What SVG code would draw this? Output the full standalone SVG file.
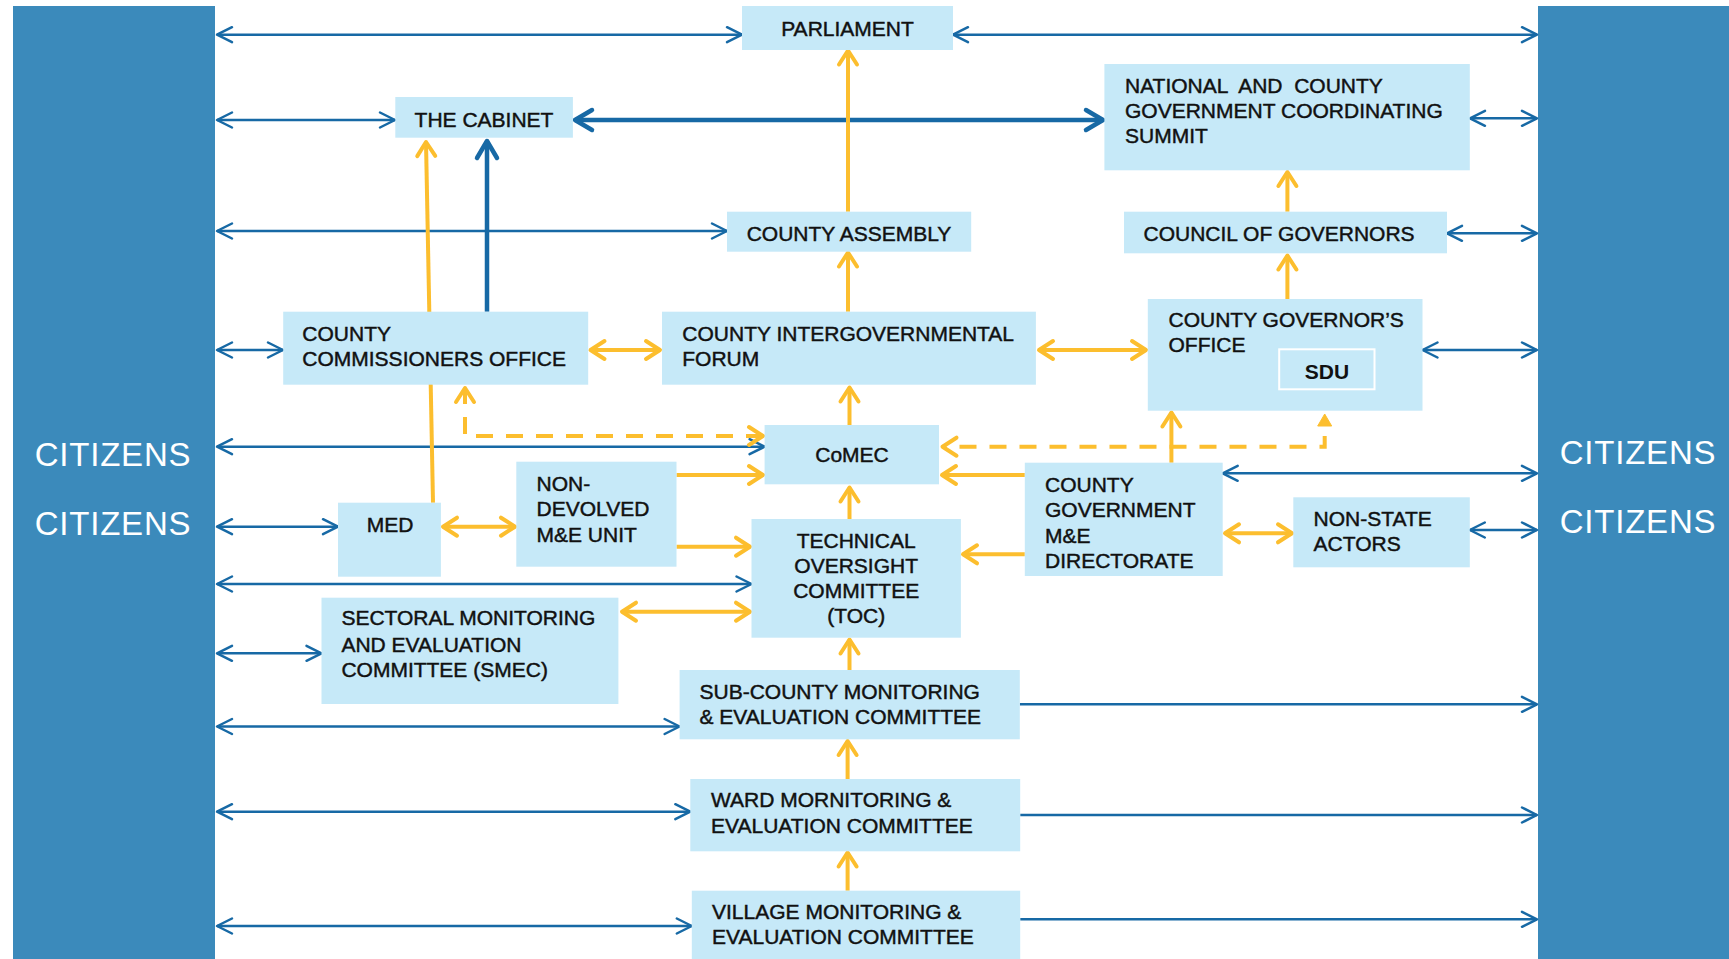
<svg xmlns="http://www.w3.org/2000/svg" width="1729" height="959" viewBox="0 0 1729 959">
<defs>
<style>
.bar{fill:#3B8ABB}
.box{fill:#C6E9F8}
.t{font-family:"Liberation Sans",Arial,sans-serif;font-size:21px;fill:#111;stroke:#111;stroke-width:0.45px}
.c{text-anchor:middle}
.cit{font-family:"Liberation Sans",Arial,sans-serif;font-size:33px;letter-spacing:0.8px;fill:#fff;text-anchor:middle}
.b{stroke:#1769A5;stroke-width:2.5;fill:none}
.bt{stroke:#1769A5;stroke-width:4.5;fill:none}
.y{stroke:#FCBE2E;stroke-width:4;fill:none}
.d{stroke-dasharray:17 13}
.bb{marker-start:url(#bh);marker-end:url(#bh)}
.be{marker-end:url(#bh)}
.tb{marker-start:url(#th);marker-end:url(#th)}
.te{marker-end:url(#th)}
.yb{marker-start:url(#yh);marker-end:url(#yh)}
.ye{marker-end:url(#yh)}
</style>
<marker id="bh" markerUnits="userSpaceOnUse" viewBox="-20 -12 24 24" refX="0" refY="0" markerWidth="24" markerHeight="24" orient="auto-start-reverse">
<path d="M-15,-7.5 L0,0 L-15,7.5" fill="none" stroke="#1769A5" stroke-width="2.5" stroke-linecap="round" stroke-linejoin="round"/>
</marker>
<marker id="th" markerUnits="userSpaceOnUse" viewBox="-24 -14 28 28" refX="0" refY="0" markerWidth="28" markerHeight="28" orient="auto-start-reverse">
<path d="M-17,-10 L0,0 L-17,10" fill="none" stroke="#1769A5" stroke-width="4.5" stroke-linecap="round" stroke-linejoin="round"/>
</marker>
<marker id="yh" markerUnits="userSpaceOnUse" viewBox="-22 -14 26 28" refX="0" refY="0" markerWidth="26" markerHeight="28" orient="auto-start-reverse">
<path d="M-14,-9 L0,0 L-14,9" fill="none" stroke="#FCBE2E" stroke-width="4" stroke-linecap="round" stroke-linejoin="round" stroke-dasharray="none"/>
</marker>
<marker id="yt" markerUnits="userSpaceOnUse" viewBox="-2 -10 28 20" refX="-10" refY="0" markerWidth="28" markerHeight="20" orient="auto">
<path d="M0,-7 L12,0 L0,7 Z" fill="#FCBE2E" stroke="#FCBE2E" stroke-width="1" stroke-linejoin="round" stroke-dasharray="none"/>
</marker>
</defs>
<rect x="0" y="0" width="1729" height="959" fill="#fff"/>

<g id="citizens-left">
<rect class="bar" x="13" y="6" width="202" height="953"/>
<text class="cit" x="113" y="466">CITIZENS</text>
<text class="cit" x="113" y="535">CITIZENS</text>
</g>
<g id="citizens-right">
<rect class="bar" x="1538" y="6" width="191" height="953"/>
<text class="cit" x="1638" y="463.5">CITIZENS</text>
<text class="cit" x="1638" y="532.5">CITIZENS</text>
</g>

<g id="connectors">
<line class="b bb" x1="217" y1="34.7" x2="742" y2="34.7"/>
<line class="b bb" x1="217" y1="120" x2="395" y2="120"/>
<line class="b bb" x1="217" y1="231" x2="727" y2="231"/>
<line class="b bb" x1="217" y1="350" x2="283" y2="350"/>
<line class="b bb" x1="217" y1="446.7" x2="764.6" y2="446.7"/>
<line class="b bb" x1="217" y1="526.7" x2="338" y2="526.7"/>
<line class="b bb" x1="217" y1="584" x2="751.5" y2="584"/>
<line class="b bb" x1="217" y1="653.3" x2="321.5" y2="653.3"/>
<line class="b bb" x1="217" y1="726.5" x2="679.6" y2="726.5"/>
<line class="b bb" x1="217" y1="811.7" x2="690.3" y2="811.7"/>
<line class="b bb" x1="217" y1="926" x2="691.8" y2="926"/>
<line class="b bb" x1="953" y1="34.7" x2="1537" y2="34.7"/>
<line class="b bb" x1="1470" y1="118.3" x2="1537" y2="118.3"/>
<line class="b bb" x1="1447" y1="233.3" x2="1537" y2="233.3"/>
<line class="b bb" x1="1422.5" y1="350" x2="1537" y2="350"/>
<line class="b bb" x1="1222.7" y1="473.3" x2="1537" y2="473.3"/>
<line class="b bb" x1="1469.8" y1="530" x2="1537" y2="530"/>
<line class="b be" x1="1019.8" y1="704.3" x2="1537" y2="704.3"/>
<line class="b be" x1="1020.2" y1="815" x2="1537" y2="815"/>
<line class="b be" x1="1020.2" y1="919.3" x2="1537" y2="919.3"/>
<line class="bt tb" x1="575" y1="120" x2="1103" y2="120"/>
<line class="bt te" x1="487" y1="311.7" x2="487" y2="141"/>
<line class="y ye" x1="848" y1="211.7" x2="848" y2="50.5"/>
<line class="y ye" x1="848" y1="311.7" x2="848" y2="252.5"/>
<line class="y ye" x1="849.5" y1="425" x2="849.5" y2="387.5"/>
<line class="y ye" x1="849.5" y1="519" x2="849.5" y2="487.5"/>
<line class="y ye" x1="849.5" y1="670" x2="849.5" y2="639.5"/>
<line class="y ye" x1="847.6" y1="779" x2="847.6" y2="741"/>
<line class="y ye" x1="847.6" y1="890.7" x2="847.6" y2="852.5"/>
<line class="y ye" x1="1287.4" y1="211.7" x2="1287.4" y2="172"/>
<line class="y ye" x1="1287.4" y1="299" x2="1287.4" y2="255.5"/>
<line class="y ye" x1="433" y1="502.7" x2="426" y2="142"/>
<line class="y ye" x1="1171.4" y1="462.7" x2="1171.4" y2="412.5"/>
<line class="y yb" x1="590.5" y1="350" x2="660" y2="350"/>
<line class="y yb" x1="1039" y1="350" x2="1146" y2="350"/>
<line class="y yb" x1="443" y1="526.7" x2="515" y2="526.7"/>
<line class="y ye" x1="676.5" y1="475" x2="763" y2="475"/>
<line class="y ye" x1="676.5" y1="546.7" x2="750" y2="546.7"/>
<line class="y yb" x1="622" y1="611.7" x2="750" y2="611.7"/>
<line class="y ye" x1="1024.8" y1="475" x2="942" y2="475"/>
<line class="y ye" x1="1024.8" y1="554.3" x2="963" y2="554.3"/>
<line class="y yb" x1="1225" y1="533.3" x2="1292" y2="533.3"/>
<path class="y d yb" d="M763,436 H465 V388"/>
<path class="y d" d="M942.5,446.7 H1324.7 V436" style="stroke-dashoffset:13;marker-start:url(#yh);marker-end:url(#yt)"/>
</g>

<g id="parliament">
<rect class="box" x="742" y="6" width="211" height="44"/>
<text class="t c" x="847.5" y="36">PARLIAMENT</text>
</g>
<g id="cabinet">
<rect class="box" x="395.3" y="97" width="177.6" height="40.7"/>
<text class="t c" x="484" y="127">THE CABINET</text>
</g>
<g id="summit">
<rect class="box" x="1104.4" y="64" width="365.4" height="106.3"/>
<text class="t" x="1125" y="93.3" style="white-space:pre">NATIONAL  AND  COUNTY</text>
<text class="t" x="1125" y="118.3">GOVERNMENT COORDINATING</text>
<text class="t" x="1125" y="143.3">SUMMIT</text>
</g>
<g id="county-assembly">
<rect class="box" x="727" y="211.7" width="244.2" height="40"/>
<text class="t c" x="849" y="240.7">COUNTY ASSEMBLY</text>
</g>
<g id="council-of-governors">
<rect class="box" x="1124" y="211.7" width="323" height="41.6"/>
<text class="t" x="1143.5" y="240.7">COUNCIL OF GOVERNORS</text>
</g>
<g id="county-commissioners-office">
<rect class="box" x="283.2" y="311.7" width="305" height="73"/>
<text class="t" x="302.3" y="340.7">COUNTY</text>
<text class="t" x="302.3" y="365.7">COMMISSIONERS OFFICE</text>
</g>
<g id="county-intergovernmental-forum">
<rect class="box" x="662" y="311.7" width="373.9" height="73"/>
<text class="t" x="682.3" y="340.7">COUNTY INTERGOVERNMENTAL</text>
<text class="t" x="682.3" y="365.7">FORUM</text>
</g>
<g id="county-governors-office">
<rect class="box" x="1147.8" y="299" width="274.7" height="111.7"/>
<text class="t" x="1168.5" y="327.3">COUNTY GOVERNOR’S</text>
<text class="t" x="1168.5" y="352.3">OFFICE</text>
</g>
<g id="sdu">
<rect class="box" x="1279.2" y="349.3" width="95.3" height="40" stroke="#fff" stroke-width="2"/>
<text class="t c" x="1327" y="379" font-weight="bold" style="stroke-width:0">SDU</text>
</g>
<g id="comec">
<rect class="box" x="764.6" y="425" width="174.4" height="59.3"/>
<text class="t c" x="852" y="462.3">CoMEC</text>
</g>
<g id="med">
<rect class="box" x="338" y="502.7" width="102.9" height="74"/>
<text class="t c" x="390" y="532.3">MED</text>
</g>
<g id="non-devolved-me-unit">
<rect class="box" x="516.3" y="461.7" width="160.2" height="105"/>
<text class="t" x="536.5" y="490.7">NON-</text>
<text class="t" x="536.5" y="516">DEVOLVED</text>
<text class="t" x="536.5" y="541.7">M&amp;E UNIT</text>
</g>
<g id="toc">
<rect class="box" x="751.5" y="519" width="209.4" height="118.7"/>
<text class="t c" x="856.2" y="548.3">TECHNICAL</text>
<text class="t c" x="856.2" y="573.3">OVERSIGHT</text>
<text class="t c" x="856.2" y="598.3">COMMITTEE</text>
<text class="t c" x="856.2" y="623.3">(TOC)</text>
</g>
<g id="county-government-me-directorate">
<rect class="box" x="1024.8" y="462.7" width="197.9" height="113.3"/>
<text class="t" x="1045" y="492.3">COUNTY</text>
<text class="t" x="1045" y="517.3">GOVERNMENT</text>
<text class="t" x="1045" y="542.7">M&amp;E</text>
<text class="t" x="1045" y="567.7">DIRECTORATE</text>
</g>
<g id="non-state-actors">
<rect class="box" x="1293.3" y="497.3" width="176.5" height="70"/>
<text class="t" x="1313.6" y="525.7">NON-STATE</text>
<text class="t" x="1313.6" y="550.7">ACTORS</text>
</g>
<g id="smec">
<rect class="box" x="321.5" y="597.7" width="296.9" height="106.3"/>
<text class="t" x="341.4" y="625">SECTORAL MONITORING</text>
<text class="t" x="341.4" y="651.7">AND EVALUATION</text>
<text class="t" x="341.4" y="677.3">COMMITTEE (SMEC)</text>
</g>
<g id="sub-county-committee">
<rect class="box" x="679.6" y="670" width="340.2" height="69.3"/>
<text class="t" x="699.5" y="699">SUB-COUNTY MONITORING</text>
<text class="t" x="699.5" y="724">&amp; EVALUATION COMMITTEE</text>
</g>
<g id="ward-committee">
<rect class="box" x="690.3" y="779" width="329.9" height="72.3"/>
<text class="t" x="711" y="807.3">WARD MORNITORING &amp;</text>
<text class="t" x="711" y="832.7">EVALUATION COMMITTEE</text>
</g>
<g id="village-committee">
<rect class="box" x="691.8" y="890.7" width="328.4" height="68.3"/>
<text class="t" x="712" y="919.3">VILLAGE MONITORING &amp;</text>
<text class="t" x="712" y="944">EVALUATION COMMITTEE</text>
</g>
</svg>
